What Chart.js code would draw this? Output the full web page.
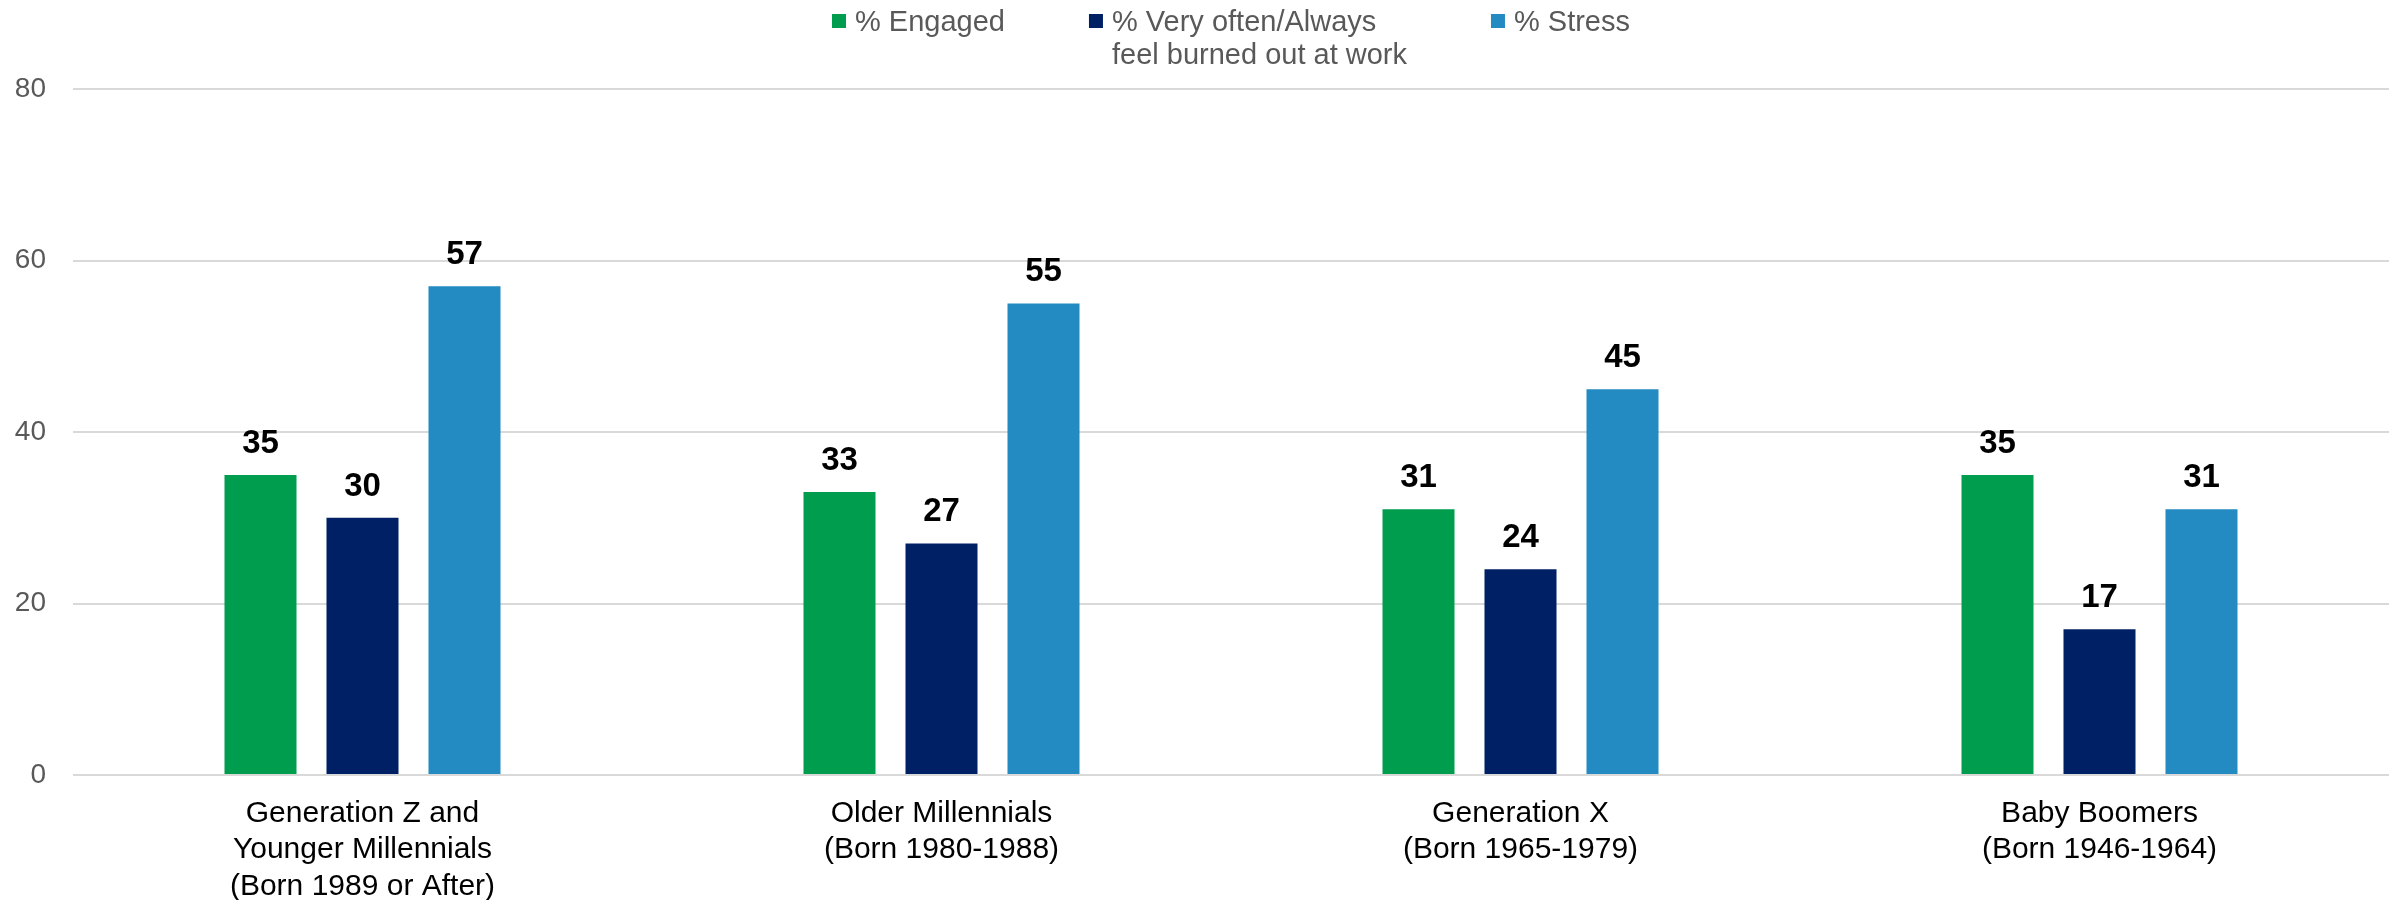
<!DOCTYPE html>
<html>
<head>
<meta charset="utf-8">
<script src="https://cdn.jsdelivr.net/npm/chart.js@4.4.1/dist/chart.umd.min.js"></script>
<style>
  html, body { margin: 0; padding: 0; background: #fff; }
  #wrap { width: 2389px; height: 900px; }
</style>
</head>
<body>
<div id="wrap"><canvas id="genChart" width="2389" height="900"></canvas></div>
<script>
const categories = [
  ['Generation Z and', 'Younger Millennials', '(Born 1989 or After)'],
  ['Older Millennials', '(Born 1980-1988)'],
  ['Generation X', '(Born 1965-1979)'],
  ['Baby Boomers', '(Born 1946-1964)']
];
const engaged = [35, 33, 31, 35];
const burnedOut = [30, 27, 24, 17];
const stress = [57, 55, 45, 31];
const yTicks = [0, 20, 40, 60, 80];
const seriesNames = ['% Engaged', '% Very often/Always\nfeel burned out at work', '% Stress'];
const seriesColors = ['#009D4F', '#002065', '#238BC2'];

const FONT = "'Liberation Sans', Arial, sans-serif";

// legend drawn by hand so the long label can wrap onto 2 lines
const topLegend = {
  id: 'topLegend',
  afterDraw(chart) {
    const { ctx, chartArea } = chart;
    ctx.save();
    ctx.font = '29px ' + FONT;
    ctx.textBaseline = 'alphabetic';
    ctx.textAlign = 'left';
    const items = chart.data.datasets.map(ds => {
      const lines = ds.label.split('\n');
      const w = Math.max(...lines.map(l => ctx.measureText(l).width));
      return { lines, w, color: ds.backgroundColor };
    });
    const box = 14, gap = 9, itemGap = 84;
    const total = items.reduce((s, it) => s + box + gap + it.w, 0) + itemGap * (items.length - 1);
    let x = (chartArea.left + chartArea.right) / 2 - total / 2;
    items.forEach(it => {
      ctx.fillStyle = it.color;
      ctx.fillRect(x, 14, box, box);
      ctx.fillStyle = '#595959';
      it.lines.forEach((line, i) => ctx.fillText(line, x + box + gap, 31 + i * 33));
      x += box + gap + it.w + itemGap;
    });
    ctx.restore();
  }
};

const valueLabels = {
  id: 'valueLabels',
  afterDatasetsDraw(chart) {
    const { ctx } = chart;
    ctx.save();
    ctx.font = 'bold 33px ' + FONT;
    ctx.fillStyle = '#000';
    ctx.textAlign = 'center';
    ctx.textBaseline = 'alphabetic';
    chart.data.datasets.forEach((ds, di) => {
      chart.getDatasetMeta(di).data.forEach((bar, i) => {
        ctx.fillText(ds.data[i], bar.x, bar.y - 22);
      });
    });
    ctx.restore();
  }
};

new Chart(document.getElementById('genChart'), {
  type: 'bar',
  data: {
    labels: categories,
    datasets: [
      { label: seriesNames[0], data: engaged, backgroundColor: seriesColors[0] },
      { label: seriesNames[1], data: burnedOut, backgroundColor: seriesColors[1] },
      { label: seriesNames[2], data: stress, backgroundColor: seriesColors[2] }
    ]
  },
  options: {
    responsive: false,
    animation: false,
    layout: { padding: { top: 89, right: 0, bottom: 0, left: 0 } },
    plugins: {
      legend: { display: false },
      tooltip: { enabled: false }
    },
    datasets: { bar: { categoryPercentage: 0.5285, barPercentage: 0.706 } },
    scales: {
      x: {
        grid: { display: false },
        border: { display: false },
        ticks: {
          color: '#000',
          font: { family: FONT, size: 30, lineHeight: 1.22 },
          padding: 12,
          maxRotation: 0,
          autoSkip: false
        },
        afterFit(scale) { scale.height = 125; }
      },
      y: {
        min: 0,
        max: 80,
        afterBuildTicks(scale) { scale.ticks = yTicks.map(v => ({ value: v })); },
        grid: { color: '#D9D9D9', lineWidth: 2, drawTicks: false },
        border: { display: false },
        ticks: { color: '#595959', font: { family: FONT, size: 28 }, padding: 27 },
        afterFit(scale) { scale.width = 73; }
      }
    }
  },
  plugins: [topLegend, valueLabels]
});
</script>
</body>
</html>
